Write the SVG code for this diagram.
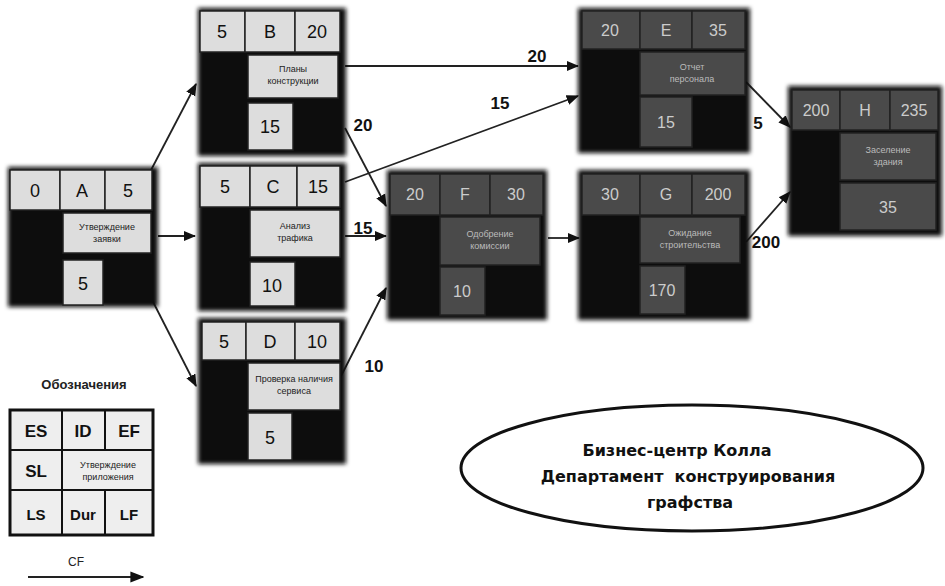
<svg xmlns="http://www.w3.org/2000/svg" width="945" height="586" viewBox="0 0 945 586">
<defs>
<filter id="sh" x="-10%" y="-10%" width="120%" height="120%"><feGaussianBlur stdDeviation="2"/></filter>
<marker id="ar" viewBox="0 0 10 10" refX="9" refY="5" markerWidth="7" markerHeight="7" orient="auto"><path d="M0,1 L10,5 L0,9 z" fill="#111"/></marker>
</defs>
<style>
.bg{fill:#111;filter:url(#sh)}
.lt{fill:#ddd;stroke:#222;stroke-width:1.5}
.gr{fill:#4a4a4a;stroke:#222;stroke-width:1.5}
.n{font-family:"Liberation Sans",Arial,sans-serif;font-size:18px;fill:#111;text-anchor:middle}
.nw{font-family:"Liberation Sans",Arial,sans-serif;font-size:16px;fill:#ccc;text-anchor:middle}
.d{font-family:"Liberation Sans",Arial,sans-serif;font-size:9px;fill:#222;text-anchor:middle}
.dw{font-family:"Liberation Sans",Arial,sans-serif;font-size:9px;fill:#bbb;text-anchor:middle}
.lb{font-family:"Liberation Sans",Arial,sans-serif;font-size:17px;font-weight:bold;fill:#111;text-anchor:middle}
.c{fill:none;stroke:#222;stroke-width:1.8;marker-end:url(#ar)}
.e{font-family:"DejaVu Sans",Verdana,sans-serif;font-size:16px;font-weight:bold;fill:#111;text-anchor:middle}
.lg{font-family:"Liberation Sans",Arial,sans-serif;font-size:17px;font-weight:bold;fill:#111;text-anchor:middle}
</style>

<g id="connectors">
<path class="c" d="M150,172 L196,84"/>
<path class="c" d="M158,236 L195,236"/>
<path class="c" d="M148,292 L196,386"/>
<path class="c" d="M345,66 L578,66"/>
<path class="c" d="M345,182 L578,96"/>
<path class="c" d="M345,128 L386,206"/>
<path class="c" d="M345,236 L386,236"/>
<path class="c" d="M340,378 L386,288"/>
<path class="c" d="M548,238 L579,238"/>
<path class="c" d="M746,82 L790,127"/>
<path class="c" d="M746,242 L790,192"/>
<text class="lb" x="537" y="62">20</text>
<text class="lb" x="500" y="109">15</text>
<text class="lb" x="363" y="131">20</text>
<text class="lb" x="363" y="234">15</text>
<text class="lb" x="374" y="372">10</text>
<text class="lb" x="758" y="129">5</text>
<text class="lb" x="766" y="248">200</text>
</g>

<g id="nodeA">
<rect class="bg" x="8" y="167" width="150" height="140"/>
<rect class="lt" x="10" y="170" width="50" height="40"/>
<rect class="lt" x="60" y="170" width="45" height="40"/>
<rect class="lt" x="105" y="170" width="47" height="40"/>
<rect class="lt" x="63" y="213" width="88" height="40"/>
<rect class="lt" x="63" y="260" width="40" height="45"/>
<text class="n" x="35" y="197">0</text>
<text class="n" x="82" y="197">A</text>
<text class="n" x="128" y="197">5</text>
<text class="d" x="107" y="230">Утверждение</text>
<text class="d" x="107" y="242">заявки</text>
<text class="n" x="83" y="290">5</text>
</g>

<g id="nodeB">
<rect class="bg" x="198" y="8" width="148" height="148"/>
<rect class="lt" x="200" y="11" width="45" height="41"/>
<rect class="lt" x="245" y="11" width="50" height="41"/>
<rect class="lt" x="295" y="11" width="45" height="41"/>
<rect class="lt" x="248" y="55" width="90" height="43"/>
<rect class="lt" x="248" y="103" width="45" height="47"/>
<text class="n" x="222" y="38">5</text>
<text class="n" x="270" y="38">B</text>
<text class="n" x="317" y="38">20</text>
<text class="d" x="293" y="72">Планы</text>
<text class="d" x="293" y="84">конструкции</text>
<text class="n" x="270" y="133">15</text>
</g>

<g id="nodeC">
<rect class="bg" x="198" y="163" width="148" height="148"/>
<rect class="lt" x="200" y="166" width="50" height="41"/>
<rect class="lt" x="250" y="166" width="47" height="41"/>
<rect class="lt" x="297" y="166" width="43" height="41"/>
<rect class="lt" x="250" y="210" width="90" height="47"/>
<rect class="lt" x="250" y="262" width="45" height="44"/>
<text class="n" x="225" y="193">5</text>
<text class="n" x="273" y="193">C</text>
<text class="n" x="318" y="193">15</text>
<text class="d" x="295" y="229">Анализ</text>
<text class="d" x="295" y="241">трафика</text>
<text class="n" x="272" y="292">10</text>
</g>

<g id="nodeD">
<rect class="bg" x="198" y="318" width="148" height="146"/>
<rect class="lt" x="202" y="322" width="44" height="38"/>
<rect class="lt" x="246" y="322" width="49" height="38"/>
<rect class="lt" x="295" y="322" width="45" height="38"/>
<rect class="lt" x="248" y="363" width="92" height="47"/>
<rect class="lt" x="248" y="413" width="44" height="47"/>
<text class="n" x="224" y="348">5</text>
<text class="n" x="270" y="348">D</text>
<text class="n" x="317" y="348">10</text>
<text class="d" x="294" y="382">Проверка наличия</text>
<text class="d" x="294" y="394">сервиса</text>
<text class="n" x="270" y="444">5</text>
</g>

<g id="nodeF">
<rect class="bg" x="387" y="170" width="160" height="150"/>
<rect class="gr" x="390" y="174" width="50" height="41"/>
<rect class="gr" x="440" y="174" width="50" height="41"/>
<rect class="gr" x="490" y="174" width="53" height="41"/>
<rect class="gr" x="440" y="217" width="100" height="48"/>
<rect class="gr" x="440" y="267" width="45" height="48"/>
<text class="nw" x="415" y="200">20</text>
<text class="nw" x="465" y="200">F</text>
<text class="nw" x="516" y="200">30</text>
<text class="dw" x="490" y="237">Одобрение</text>
<text class="dw" x="490" y="249">комиссии</text>
<text class="nw" x="462" y="297">10</text>
</g>

<g id="nodeE">
<rect class="bg" x="578" y="8" width="172" height="145"/>
<rect class="gr" x="582" y="11" width="58" height="38"/>
<rect class="gr" x="640" y="11" width="52" height="38"/>
<rect class="gr" x="692" y="11" width="53" height="38"/>
<rect class="gr" x="640" y="52" width="105" height="43"/>
<rect class="gr" x="640" y="97" width="52" height="50"/>
<text class="nw" x="610" y="36">20</text>
<text class="nw" x="666" y="36">E</text>
<text class="nw" x="718" y="36">35</text>
<text class="dw" x="692" y="70">Отчет</text>
<text class="dw" x="692" y="82">персонала</text>
<text class="nw" x="666" y="128">15</text>
</g>

<g id="nodeG">
<rect class="bg" x="578" y="170" width="172" height="150"/>
<rect class="gr" x="582" y="174" width="58" height="41"/>
<rect class="gr" x="640" y="174" width="52" height="41"/>
<rect class="gr" x="692" y="174" width="53" height="41"/>
<rect class="gr" x="640" y="217" width="100" height="46"/>
<rect class="gr" x="640" y="266" width="45" height="48"/>
<text class="nw" x="610" y="200">30</text>
<text class="nw" x="666" y="200">G</text>
<text class="nw" x="718" y="200">200</text>
<text class="dw" x="690" y="236">Ожидание</text>
<text class="dw" x="690" y="248">строительства</text>
<text class="nw" x="662" y="296">170</text>
</g>

<g id="nodeH">
<rect class="bg" x="788" y="86" width="154" height="150"/>
<rect class="gr" x="792" y="90" width="48" height="40"/>
<rect class="gr" x="840" y="90" width="50" height="40"/>
<rect class="gr" x="890" y="90" width="48" height="40"/>
<rect class="gr" x="840" y="133" width="96" height="47"/>
<rect class="gr" x="840" y="183" width="96" height="47"/>
<text class="nw" x="816" y="116">200</text>
<text class="nw" x="865" y="116">H</text>
<text class="nw" x="914" y="116">235</text>
<text class="dw" x="888" y="153">Заселение</text>
<text class="dw" x="888" y="165">здания</text>
<text class="nw" x="888" y="213">35</text>
</g>

<g id="legend">
<text class="d" x="84" y="389" style="font-size:13px;font-weight:bold">Обозначения</text>
<rect x="10" y="410" width="143" height="125" fill="#eee" stroke="#111" stroke-width="3"/>
<line x1="10" y1="450" x2="153" y2="450" stroke="#111" stroke-width="2"/>
<line x1="10" y1="490" x2="153" y2="490" stroke="#111" stroke-width="2"/>
<line x1="62" y1="410" x2="62" y2="535" stroke="#111" stroke-width="2"/>
<line x1="105" y1="410" x2="105" y2="450" stroke="#111" stroke-width="2"/>
<line x1="105" y1="490" x2="105" y2="535" stroke="#111" stroke-width="2"/>
<text class="lg" x="36" y="437">ES</text>
<text class="lg" x="83" y="437">ID</text>
<text class="lg" x="129" y="437">EF</text>
<text class="lg" x="36" y="477">SL</text>
<text class="d" x="108" y="468">Утверждение</text>
<text class="d" x="108" y="480">приложения</text>
<text class="lg" x="36" y="520" style="font-size:15px">LS</text>
<text class="lg" x="83" y="520" style="font-size:15px">Dur</text>
<text class="lg" x="129" y="520" style="font-size:15px">LF</text>
<text class="d" x="76" y="566" style="font-size:12px">CF</text>
<path d="M28,577 L143,577" fill="none" stroke="#222" stroke-width="2" marker-end="url(#ar)"/>
</g>

<g id="title">
<ellipse cx="692" cy="468" rx="231" ry="63" fill="#fff" stroke="#111" stroke-width="3"/>
<text class="e" x="677" y="456">Бизнес-центр Колла</text>
<text class="e" x="688" y="482" xml:space="preserve">Департамент  конструирования</text>
<text class="e" x="690" y="508">графства</text>
</g>
</svg>
